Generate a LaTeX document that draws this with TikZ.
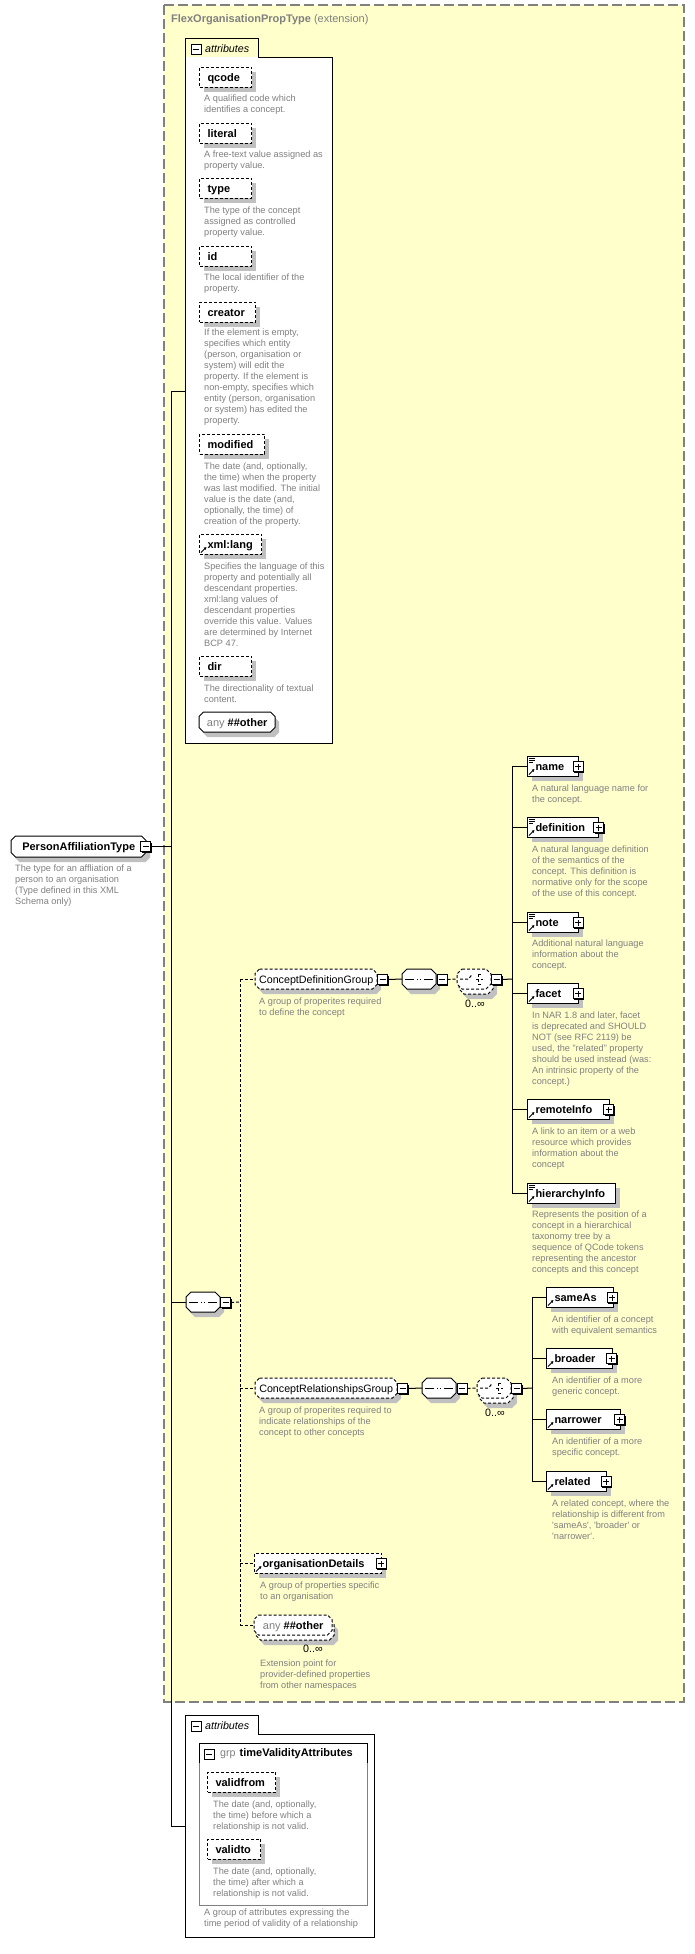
\documentclass[tikz,border=0pt]{standalone}
\usepackage{fontspec}
\setmainfont{Liberation Sans}
\usetikzlibrary{arrows.meta}
\definecolor{ylw}{RGB}{255,255,204}
\definecolor{brd}{RGB}{128,128,128}
\definecolor{shd}{RGB}{192,192,192}
\definecolor{dscgray}{RGB}{128,128,128}
\newcommand\fel{\fontsize{11}{13}\selectfont\bfseries}
\newcommand\fgr{\fontsize{10.7}{13}\selectfont}
\newcommand\fds{\fontsize{9.2}{11}\selectfont}
\tikzset{
  ln/.style={line width=1pt, draw=black},
  dsh/.style={dash pattern=on 3pt off 2pt},
  shadowed/.style={preaction={fill=shd, draw=none, transform canvas={shift={(4pt,-5pt)}}}},
  elembox/.style={rectangle, draw=black, fill=white, line width=1pt, inner xsep=8pt, inner ysep=0pt, minimum height=20pt, text height=8pt, text depth=0pt, align=left, font=\fel, anchor=west, shadowed},
  anch/.style={rectangle, draw=none, inner sep=0pt, minimum height=20pt, text height=8pt, text depth=0pt, anchor=west},
  dsc/.style={anchor=north west, inner sep=0pt, align=left, font=\fds, text=dscgray},
  pmbase/.style={rectangle, draw=black, fill=white, line width=1pt, minimum size=10pt, inner sep=0pt, preaction={fill=black, draw=none, transform canvas={shift={(1.3pt,-1.3pt)}}}},
  minusic/.style={pmbase, path picture={\draw[line width=1pt] ([xshift=-3pt]path picture bounding box.center) -- ([xshift=3pt]path picture bounding box.center);}},
  plusic/.style={pmbase, path picture={\draw[line width=1pt] ([xshift=-3pt]path picture bounding box.center) -- ([xshift=3pt]path picture bounding box.center) ([yshift=-3pt]path picture bounding box.center) -- ([yshift=3pt]path picture bounding box.center);}},
  seqpic/.style={path picture={
    \coordinate (pc) at (path picture bounding box.center);
    \draw[line width=1pt] ([xshift=-14pt]pc) -- ([xshift=14pt]pc);
    \foreach \dx in {-3.6,0,3.6} \fill ([xshift=\dx pt-1.3pt,yshift=-1.3pt]pc) rectangle ++(2.6pt,2.6pt);}},
  choicepic/.style={path picture={
    \coordinate (pc) at (path picture bounding box.center);
    \draw[line width=1pt] ([xshift=-14pt]pc) -- ([xshift=-5.5pt]pc) -- ([xshift=-1.5pt,yshift=5pt]pc);
    \foreach \dy in {-5,0,5} \fill ([xshift=-0.5pt,yshift=\dy pt-1.3pt]pc) rectangle ++(2.8pt,2.6pt);
    \draw[line width=1pt] ([xshift=4pt,yshift=5pt]pc) -- ([xshift=4pt,yshift=-5pt]pc);
    \draw[line width=1pt] ([xshift=4pt,yshift=5pt]pc) -- ([xshift=8pt,yshift=5pt]pc);
    \draw[line width=1pt] ([xshift=4pt,yshift=-5pt]pc) -- ([xshift=8pt,yshift=-5pt]pc);
    \draw[line width=1pt] ([xshift=2.3pt]pc) -- ([xshift=9pt]pc);}},
  lbl/.style={anchor=west, inner sep=0pt},
  mult/.style={inner sep=0pt, font=\fgr}
}
% octagon outline: [opts] x, yc, W, H, chamfer
\newcommand\octo[6][]{%
  \path[#1] ({#2+#6},{#3-#5/2}) -- ({#2+#4-#6},{#3-#5/2}) -- ({#2+#4},{#3-#5/2+#6}) -- ({#2+#4},{#3+#5/2-#6}) -- ({#2+#4-#6},{#3+#5/2}) -- ({#2+#6},{#3+#5/2}) -- ({#2},{#3+#5/2-#6}) -- ({#2},{#3-#5/2+#6}) -- cycle;}
% octagon box with shadow and named node: [outline opts] name, x, yc, W, node opts, text
\newcommand\octbox[7][]{%
  \octo[fill=shd]{#3+4}{#4+5}{#5}{20}{4.5}%
  \octo[ln,fill=white,#1]{#3}{#4}{#5}{20}{4.5}%
  \node[anch, minimum width=#5pt, #6] (#2) at (#3,#4) {#7};}
\newcommand\elem[6][]{%
  \pgfmathsetmacro\elemtw{#5-16}%
  \node[elembox,#1,text width=\elemtw pt] (#2) at (#3,#4) {#6};}
\newcommand\refic[1]{\draw[line width=1pt, -{Latex[length=2.6pt,width=3.2pt]}] ([shift={(2,-2)}]#1.south west) -- ([shift={(7.5,-7.5)}]#1.south west);}
\newcommand\txtic[1]{\draw[line width=0.8pt] ([shift={(2,2.5)}]#1.north west) -- ++(6,0) ([shift={(2,4.5)}]#1.north west) -- ++(6,0) ([shift={(2,6.5)}]#1.north west) -- ++(4,0);}
\begin{document}
\begin{tikzpicture}[x=1pt,y=-1pt]
\useasboundingbox (0,0) rectangle (695,1954);
\fill[white] (0,0) rectangle (695,1954);
% extension area
\draw[fill=ylw, draw=brd, line width=1.2pt, dash pattern=on 10pt off 4pt] (164,5) rectangle (684,1702);
\node[lbl, text=brd, font=\fontsize{11}{13}\selectfont\bfseries] (title) at (171,19.5) {FlexOrganisationPropType \mdseries(extension)};

% root element
\octo[fill=shd]{15}{851.5}{135}{21}{4.5}
\octo[ln,fill=white]{11}{846.5}{135}{21}{4.5}
\node[anch, minimum width=135pt, minimum height=21pt, font=\fel] (pat) at (11,846.5) {PersonAffiliationType\hspace{9pt}};
\node[minusic] (pat-pm) at (145.5,846.5) {};
\node[dsc] (pat-d) at (15,864.5) {The type for an affliation of a\\person to an organisation\\(Type defined in this XML\\Schema only)};

% main trunk
\coordinate (tA) at (171,391);
\coordinate (tB) at (171,1826);
\coordinate (tP) at (171,846.5);
\draw[ln] (tA) -- (tB);
\draw[ln] (pat-pm.east) -- (tP);

% top attributes
\node[draw=none, fill=white, minimum width=147pt, minimum height=686pt, inner sep=0pt] (at1) at (258.5,400) {};
\draw[ln] (185,743) -- (185,38) -- (258,38) -- (258,57) -- (332,57) -- (332,743) -- cycle;
\draw[ln] (tA) -- (tA -| at1.west);
\node[minusic] (at1-pm) at (196,49) {};
\node[lbl, font=\fgr\itshape] (at1-l) at (205,48.5) {attributes};

\elem[dsh]{qcode}{199}{77}{52}{qcode}
\node[dsc] (qcode-d) at (204,94.5) {A qualified code which\\identifies a concept.};
\elem[dsh]{literal}{199}{133}{52}{literal}
\node[dsc] (literal-d) at (204,150.5) {A free-text value assigned as\\property value.};
\elem[dsh]{type}{199}{188}{52}{type}
\node[dsc] (type-d) at (204,206.5) {The type of the concept\\assigned as controlled\\property value.};
\elem[dsh]{id}{199}{256}{52}{id}
\node[dsc] (id-d) at (204,273.5) {The local identifier of the\\property.};
\elem[dsh]{creator}{199}{312}{56}{creator}
\node[dsc] (creator-d) at (204,328.5) {If the element is empty,\\specifies which entity\\(person, organisation or\\system) will edit the\\property. If the element is\\non-empty, specifies which\\entity (person, organisation\\or system) has edited the\\property.};
\elem[dsh]{modified}{199}{444}{65}{modified}
\node[dsc] (modified-d) at (204,462.5) {The date (and, optionally,\\the time) when the property\\was last modified. The initial\\value is the date (and,\\optionally, the time) of\\creation of the property.};
\elem[dsh]{xmllang}{199}{544}{62}{xml:lang}
\refic{xmllang}
\node[dsc] (xmllang-d) at (204,562.5) {Specifies the language of this\\property and potentially all\\descendant properties.\\xml:lang values of\\descendant properties\\override this value. Values\\are determined by Internet\\BCP 47.};
\elem[dsh]{dir}{199}{666}{52}{dir}
\node[dsc] (dir-d) at (204,684.5) {The directionality of textual\\content.};
\octbox{any1}{199}{722}{76}{font=\fel}{\textcolor{brd}{\mdseries any} \#\#other}

% sequence
\octo[fill=shd]{190}{1307}{34}{20}{5}
\octo[ln,fill=white,seqpic]{186}{1302}{34}{20}{5}
\node[anch, minimum width=34pt] (seq1) at (186,1302) {};
\node[minusic] (seq1-pm) at (225.5,1302.5) {};
\draw[ln] (seq1.west -| tA) -- (seq1.west);
\coordinate (dj) at (240,1302);
\draw[ln,dsh] (seq1-pm.east) -- (dj);

% ConceptDefinitionGroup
\octbox[dsh]{cdg}{255}{979}{122}{font=\fgr}{ConceptDefinitionGroup}
\node[minusic] (cdg-pm) at (382.5,979.5) {};
\node[dsc] (cdg-d) at (259,997.5) {A group of properites required\\to define the concept};
\octo[fill=shd]{406}{984}{34}{20}{5}
\octo[ln,fill=white,seqpic]{402}{979}{34}{20}{5}
\node[anch, minimum width=34pt] (seq2) at (402,979) {};
\node[minusic] (seq2-pm) at (442,979.5) {};
\octo[fill=shd]{463}{989}{34}{20}{5}
\octo[ln,dsh,fill=white]{459}{984}{34}{20}{5}
\octo[ln,dsh,fill=white,choicepic]{457}{979}{34}{20}{5}
\node[anch, minimum width=34pt] (ch1) at (457,979) {};
\node[minusic] (ch1-pm) at (496.5,979.5) {};
\node[mult] (ch1-m) at (475,1003.5) {0..∞};
\draw[ln] (cdg-pm.east) -- (seq2.west);
\draw[ln,dsh] (seq2-pm.east) -- (ch1.west);
\coordinate (t2) at (512,979);
\draw[ln] (ch1-pm.east) -- (t2);

\elem{name}{527}{766}{51}{name}
\txtic{name}\refic{name}
\node[plusic] (name-pm) at (578,766.5) {};
\node[dsc] (name-d) at (532,784.5) {A natural language name for\\the concept.};
\elem{defn}{527}{827}{71}{definition}
\txtic{defn}\refic{defn}
\node[plusic] (defn-pm) at (598.5,827.5) {};
\node[dsc] (defn-d) at (532,845.5) {A natural language definition\\of the semantics of the\\concept. This definition is\\normative only for the scope\\of the use of this concept.};
\elem{note}{527}{922}{51}{note}
\txtic{note}\refic{note}
\node[plusic] (note-pm) at (578,922.5) {};
\node[dsc] (note-d) at (532,939.5) {Additional natural language\\information about the\\concept.};
\elem{facet}{527}{993}{51}{facet}
\refic{facet}
\node[plusic] (facet-pm) at (578,993.5) {};
\node[dsc] (facet-d) at (532,1011.5) {In NAR 1.8 and later, facet\\is deprecated and SHOULD\\NOT (see RFC 2119) be\\used, the "related" property\\should be used instead (was:\\An intrinsic property of the\\concept.)};
\elem{rinfo}{527}{1109}{82}{remoteInfo}
\refic{rinfo}
\node[plusic] (rinfo-pm) at (608.5,1109.5) {};
\node[dsc] (rinfo-d) at (532,1127.5) {A link to an item or a web\\resource which provides\\information about the\\concept};
\elem{hinfo}{527}{1193}{88}{hierarchyInfo}
\txtic{hinfo}\refic{hinfo}
\node[dsc] (hinfo-d) at (532,1210.5) {Represents the position of a\\concept in a hierarchical\\taxonomy tree by a\\sequence of QCode tokens\\representing the ancestor\\concepts and this concept};
\draw[ln] (name.west -| t2) -- (hinfo.west -| t2);
\foreach \n in {name,defn,note,facet,rinfo,hinfo} \draw[ln] (\n.west -| t2) -- (\n.west);

% ConceptRelationshipsGroup
\octbox[dsh]{crg}{255}{1388}{142}{font=\fgr}{ConceptRelationshipsGroup}
\node[minusic] (crg-pm) at (402.5,1388.5) {};
\node[dsc] (crg-d) at (259,1406.5) {A group of properites required to\\indicate relationships of the\\concept to other concepts};
\octo[fill=shd]{426}{1393}{34}{20}{5}
\octo[ln,fill=white,seqpic]{422}{1388}{34}{20}{5}
\node[anch, minimum width=34pt] (seq3) at (422,1388) {};
\node[minusic] (seq3-pm) at (462,1388.5) {};
\octo[fill=shd]{483}{1398}{34}{20}{5}
\octo[ln,dsh,fill=white]{479}{1393}{34}{20}{5}
\octo[ln,dsh,fill=white,choicepic]{477}{1388}{34}{20}{5}
\node[anch, minimum width=34pt] (ch2) at (477,1388) {};
\node[minusic] (ch2-pm) at (516.5,1388.5) {};
\node[mult] (ch2-m) at (495,1412.5) {0..∞};
\draw[ln] (crg-pm.east) -- (seq3.west);
\draw[ln,dsh] (seq3-pm.east) -- (ch2.west);
\coordinate (t3) at (532,1388);
\draw[ln] (ch2-pm.east) -- (t3);

\elem{sameas}{546}{1297}{67}{sameAs}
\refic{sameas}
\node[plusic] (sameas-pm) at (612,1297.5) {};
\node[dsc] (sameas-d) at (552,1315.5) {An identifier of a concept\\with equivalent semantics};
\elem{broader}{546}{1358}{66}{broader}
\refic{broader}
\node[plusic] (broader-pm) at (611.5,1358.5) {};
\node[dsc] (broader-d) at (552,1376.5) {An identifier of a more\\generic concept.};
\elem{narrower}{546}{1419}{74}{narrower}
\refic{narrower}
\node[plusic] (narrower-pm) at (619.5,1419.5) {};
\node[dsc] (narrower-d) at (552,1437.5) {An identifier of a more\\specific concept.};
\elem{related}{546}{1481}{60}{related}
\refic{related}
\node[plusic] (related-pm) at (606,1481.5) {};
\node[dsc] (related-d) at (552,1499.5) {A related concept, where the\\relationship is different from\\\textquotesingle sameAs\textquotesingle, \textquotesingle broader\textquotesingle\ or\\\textquotesingle narrower\textquotesingle.};
\draw[ln] (sameas.west -| t3) -- (related.west -| t3);
\foreach \n in {sameas,broader,narrower,related} \draw[ln] (\n.west -| t3) -- (\n.west);

% organisationDetails
\elem[dsh]{orgd}{254}{1563}{127}{organisationDetails}
\refic{orgd}
\node[plusic] (orgd-pm) at (381,1563.5) {};
\node[dsc] (orgd-d) at (260,1581.5) {A group of properties specific\\to an organisation};

% any ##other
\octo[fill=shd]{260}{1635}{78}{20}{4.5}
\octo[ln,dsh,fill=white]{256}{1630}{78}{20}{4.5}
\octo[ln,dsh,fill=white]{254}{1625}{78}{20}{4.5}
\node[anch, minimum width=78pt, font=\fel] (anyo) at (254,1625) {\textcolor{brd}{\mdseries any} \#\#other};
\node[mult] (anyo-m) at (313,1648.5) {0..∞};
\node[dsc] (anyo-d) at (260,1659.5) {Extension point for\\provider-defined properties\\from other namespaces};

% dashed sequence trunk
\draw[ln,dsh] (cdg.west -| dj) -- (anyo.west -| dj);
\foreach \n in {cdg,crg,orgd,anyo} \draw[ln,dsh] (\n.west -| dj) -- (\n.west);

% bottom attributes
\node[draw=none, fill=white, minimum width=189pt, minimum height=203pt, inner sep=0pt] (at2) at (279.5,1835.5) {};
\draw[ln] (185,1937) -- (185,1715) -- (258,1715) -- (258,1734) -- (374,1734) -- (374,1937) -- cycle;
\draw[ln] (tB) -- (tB -| at2.west);
\node[minusic] (at2-pm) at (196,1726) {};
\node[lbl, font=\fgr\itshape] (at2-l) at (205,1725.5) {attributes};
\draw[draw=brd, line width=1pt] (199,1763) -- (199,1905) -- (367,1905) -- (367,1763);
\draw[ln] (199,1763) -- (199,1743) -- (367,1743) -- (367,1763);
\node[minusic] (grp-pm) at (209,1754) {};
\node[lbl, font=\fgr] (grp-l) at (220,1754) {\textcolor{brd}{grp}\hspace{4pt}{\fel timeValidityAttributes}};
\elem[dsh]{validfrom}{207}{1782}{68}{validfrom}
\node[dsc] (validfrom-d) at (213,1800.5) {The date (and, optionally,\\the time) before which a\\relationship is not valid.};
\elem[dsh]{validto}{207}{1849}{53}{validto}
\node[dsc] (validto-d) at (213,1867.5) {The date (and, optionally,\\the time) after which a\\relationship is not valid.};
\node[dsc] (grp-d) at (204,1908.5) {A group of attributes expressing the\\time period of validity of a relationship};
\end{tikzpicture}
\end{document}
